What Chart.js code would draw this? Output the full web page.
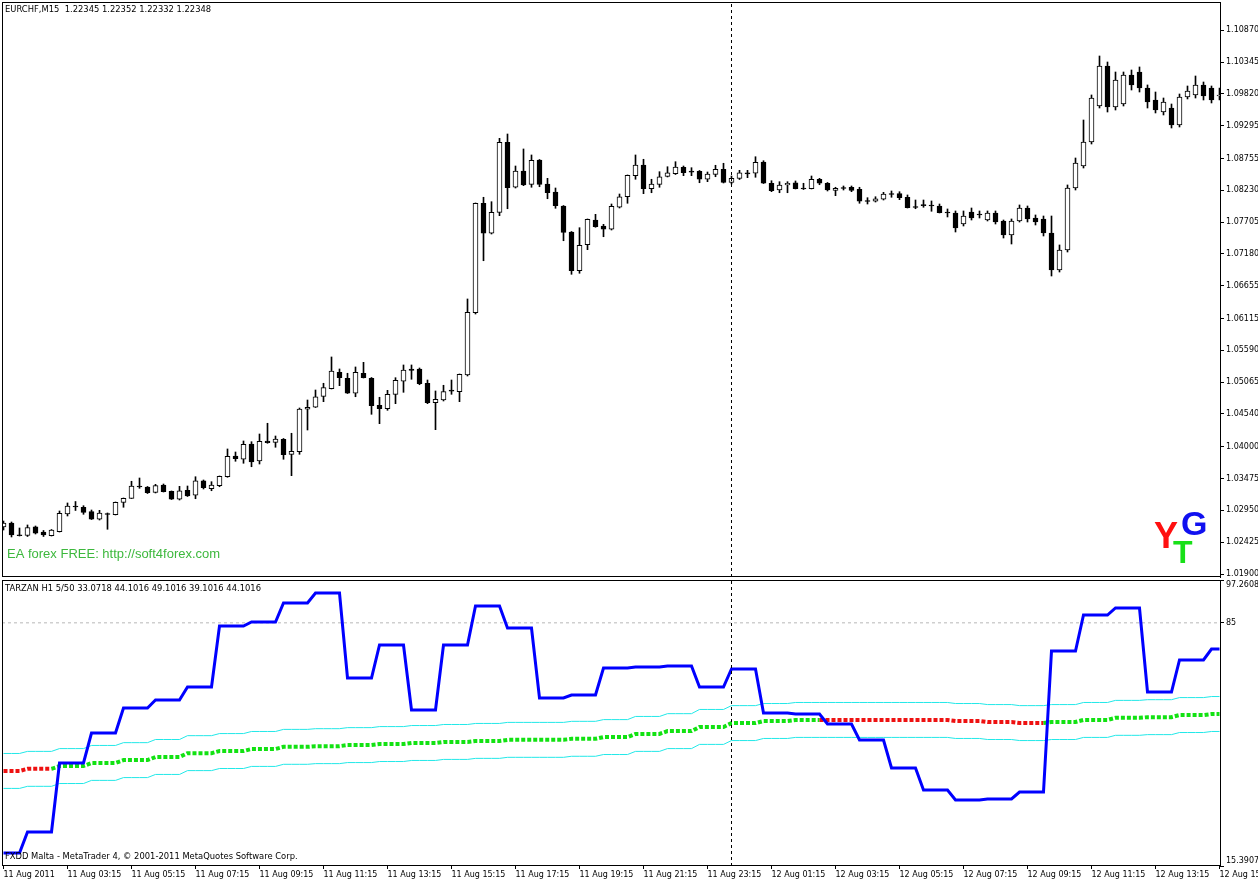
<!DOCTYPE html>
<html><head><meta charset="utf-8">
<script src="https://cdn.jsdelivr.net/npm/chart.js@4.4.0/dist/chart.umd.min.js"></script>
<style>
html,body{margin:0;padding:0;background:#fff;overflow:hidden;}
#wrap{position:relative;width:1258px;height:883px;background:#fff;}
#c1{position:absolute;left:0;top:0;}
#c2{position:absolute;left:0;top:579px;}
</style></head><body>
<div id="wrap"><canvas id="c1" width="1258" height="579"></canvas><canvas id="c2" width="1258" height="304"></canvas></div>
<script>
// ---- DATA (EURCHF M15, one entry per bar, bar 0 = 11 Aug 01:15) ----
const opens = [1.02676,1.02742,1.02544,1.02535,1.02680,1.02593,1.02532,1.02598,1.02890,1.03022,
1.03001,1.02928,1.02803,1.02898,1.02878,1.03083,1.03149,1.03352,1.03336,1.03248,
1.03369,1.03265,1.03133,1.03281,1.03199,1.03439,1.03307,1.03357,1.03505,1.03847,
1.03793,1.04045,1.03765,1.04095,1.04073,1.04123,1.03875,1.03918,1.04618,1.04651,
1.04832,1.04957,1.05228,1.05129,1.04882,1.05212,1.05129,1.04684,1.04627,1.04865,
1.05080,1.05283,1.05283,1.05047,1.04726,1.04771,1.04931,1.04908,1.05184,1.06211,
1.08017,1.07522,1.07868,1.09023,1.08281,1.08550,1.08330,1.08731,1.08335,1.08203,
1.07972,1.07543,1.06904,1.07333,1.07741,1.07642,1.07588,1.07951,1.08125,1.08472,
1.08649,1.08257,1.08330,1.08462,1.08505,1.08611,1.08545,1.08545,1.08413,1.08495,
1.08578,1.08363,1.08429,1.08505,1.08512,1.08698,1.08347,1.08236,1.08319,1.08356,
1.08264,1.08257,1.08413,1.08347,1.08231,1.08274,1.08281,1.08248,1.08059,1.08050,
1.08083,1.08175,1.08175,1.08116,1.07960,1.07989,1.07984,1.07972,1.07873,1.07857,
1.07675,1.07873,1.07840,1.07741,1.07857,1.07725,1.07494,1.07725,1.07939,1.07774,
1.07758,1.07527,1.06916,1.07246,1.08269,1.08632,1.09028,1.09622,1.10282,1.09606,
1.09655,1.10134,1.10183,1.09919,1.09721,1.09523,1.09589,1.09309,1.09771,1.09804,
1.09969,1.09919,1.09787];
const highs = [1.02774,1.02758,1.02659,1.02709,1.02692,1.02618,1.02634,1.02940,1.03072,1.03096,
1.03027,1.02956,1.02951,1.02907,1.03088,1.03154,1.03430,1.03484,1.03344,1.03380,
1.03385,1.03270,1.03347,1.03352,1.03505,1.03451,1.03423,1.03517,1.03963,1.03913,
1.04095,1.04083,1.04210,1.04387,1.04177,1.04136,1.04222,1.04639,1.04771,1.04936,
1.05047,1.05481,1.05283,1.05212,1.05316,1.05393,1.05142,1.04816,1.04931,1.05139,
1.05349,1.05349,1.05299,1.05101,1.04920,1.05014,1.05101,1.05200,1.06438,1.08022,
1.08116,1.08043,1.09089,1.09160,1.08632,1.08913,1.08814,1.08739,1.08429,1.08269,
1.07980,1.07551,1.07614,1.07758,1.07835,1.07670,1.08005,1.08170,1.08484,1.08814,
1.08743,1.08413,1.08538,1.08620,1.08703,1.08632,1.08604,1.08558,1.08533,1.08644,
1.08677,1.08467,1.08561,1.08561,1.08785,1.08719,1.08389,1.08373,1.08373,1.08385,
1.08347,1.08467,1.08429,1.08360,1.08281,1.08302,1.08302,1.08281,1.08109,1.08125,
1.08198,1.08220,1.08208,1.08154,1.08071,1.08071,1.08055,1.08005,1.07923,1.07890,
1.07890,1.07939,1.07890,1.07890,1.07890,1.07741,1.07758,1.07989,1.07972,1.07824,
1.07807,1.07807,1.07329,1.08319,1.08764,1.09391,1.09804,1.10447,1.10348,1.10183,
1.10183,1.10216,1.10266,1.09969,1.09853,1.09754,1.09655,1.09820,1.09952,1.10117,
1.10018,1.09952,1.09919];
const lows = [1.02626,1.02511,1.02527,1.02519,1.02560,1.02519,1.02527,1.02593,1.02857,1.02948,
1.02885,1.02799,1.02791,1.02638,1.02874,1.03001,1.03146,1.03314,1.03228,1.03237,
1.03253,1.03129,1.03121,1.03179,1.03142,1.03303,1.03274,1.03340,1.03496,1.03760,
1.03727,1.03670,1.03715,1.04057,1.03991,1.03793,1.03522,1.03875,1.04276,1.04647,
1.04743,1.04953,1.05007,1.04878,1.04825,1.05134,1.04535,1.04380,1.04601,1.04710,
1.04898,1.05113,1.05023,1.04710,1.04281,1.04755,1.04865,1.04743,1.05167,1.06190,
1.07069,1.07510,1.07812,1.07927,1.08269,1.08307,1.08281,1.08290,1.08092,1.07934,
1.07399,1.06845,1.06862,1.07251,1.07621,1.07465,1.07576,1.07939,1.08017,1.08413,
1.08175,1.08191,1.08281,1.08451,1.08492,1.08472,1.08472,1.08356,1.08373,1.08455,
1.08352,1.08335,1.08409,1.08439,1.08446,1.08343,1.08208,1.08191,1.08191,1.08253,
1.08244,1.08253,1.08323,1.08220,1.08142,1.08236,1.08208,1.08017,1.08005,1.08038,
1.08071,1.08116,1.08076,1.07939,1.07927,1.07951,1.07885,1.07857,1.07791,1.07543,
1.07642,1.07741,1.07774,1.07725,1.07675,1.07444,1.07345,1.07708,1.07708,1.07659,
1.07477,1.06817,1.06883,1.07213,1.08236,1.08599,1.08995,1.09589,1.09523,1.09556,
1.09622,1.09886,1.09853,1.09589,1.09507,1.09474,1.09259,1.09276,1.09738,1.09754,
1.09721,1.09672,1.09721];
const closes = [1.02742,1.02544,1.02535,1.02667,1.02572,1.02544,1.02626,1.02902,1.03022,1.03006,
1.02918,1.02803,1.02907,1.02882,1.03083,1.03149,1.03352,1.03336,1.03241,1.03357,
1.03258,1.03133,1.03274,1.03187,1.03439,1.03324,1.03369,1.03512,1.03842,1.03802,
1.04040,1.03748,1.04090,1.04066,1.04128,1.03868,1.03925,1.04623,1.04651,1.04825,
1.04974,1.05250,1.05139,1.04882,1.05228,1.05139,1.04677,1.04627,1.04865,1.05096,
1.05266,1.05261,1.05040,1.04726,1.04783,1.04908,1.04920,1.05195,1.06218,1.08017,
1.07522,1.07868,1.09023,1.08274,1.08550,1.08319,1.08726,1.08330,1.08191,1.07977,
1.07538,1.06904,1.07324,1.07753,1.07630,1.07588,1.07967,1.08125,1.08479,1.08649,
1.08257,1.08335,1.08455,1.08521,1.08616,1.08521,1.08533,1.08413,1.08500,1.08578,
1.08363,1.08429,1.08521,1.08517,1.08693,1.08347,1.08224,1.08319,1.08347,1.08257,
1.08257,1.08413,1.08347,1.08236,1.08264,1.08264,1.08231,1.08050,1.08050,1.08092,
1.08170,1.08165,1.08109,1.07944,1.07951,1.07984,1.07977,1.07861,1.07857,1.07609,
1.07807,1.07774,1.07824,1.07857,1.07708,1.07494,1.07725,1.07939,1.07758,1.07708,
1.07527,1.06916,1.07246,1.08269,1.08682,1.09028,1.09754,1.10282,1.09606,1.10051,
1.10134,1.09969,1.09919,1.09688,1.09556,1.09688,1.09309,1.09771,1.09870,1.09969,
1.09787,1.09721,1.09804];
const priceTicks = [1.01900,1.02425,1.02950,1.03475,1.04000,1.04540,1.05065,1.05590,1.06115,
1.06655,1.07180,1.07705,1.08230,1.08755,1.09295,1.09820,1.10345,1.10870];
// TARZAN H1 indicator, one value per H1 bar (39 hours)
const tarzanH1 = [19.11,25.12,44.88,53.46,60.62,62.91,66.63,84.09,85.24,90.68,93.54,69.21,78.65,
60.05,78.65,89.82,83.52,63.48,64.34,72.07,72.36,72.64,66.63,71.78,59.19,58.90,56.04,51.46,
43.44,37.15,34.28,34.57,36.57,76.94,87.24,89.25,65.20,74.36,77.51];
const maH1 = [42.6,43.2,44.0,44.9,45.7,46.6,47.7,48.3,48.9,49.5,49.7,50.0,50.3,50.6,50.9,51.2,
51.5,51.5,51.8,52.3,53.2,54.0,55.2,56.3,56.9,57.2,57.2,57.2,57.2,57.2,56.9,56.6,56.3,56.6,
57.2,57.8,58.0,58.6,58.9];
const upperH1 = [47.6,48.2,49.0,49.9,50.7,51.6,52.7,53.3,53.9,54.5,54.7,55.0,55.3,55.6,55.9,56.2,
56.5,56.5,56.8,57.3,58.2,59.0,60.2,61.3,61.9,62.2,62.2,62.2,62.2,62.2,61.9,61.6,61.3,61.6,
62.2,62.8,63.0,63.6,63.9];
const lowerH1 = [37.6,38.2,39.0,39.9,40.7,41.6,42.7,43.3,43.9,44.5,44.7,45.0,45.3,45.6,45.9,46.2,
46.5,46.5,46.8,47.3,48.2,49.0,50.2,51.3,51.9,52.2,52.2,52.2,52.2,52.2,51.9,51.6,51.3,51.6,
52.2,52.8,53.0,53.6,53.9];
const indTicks = [15.3907, 85, 97.2608];
const levelValue = 85;
const timeTickBars = [0,8,16,24,32,40,48,56,64,72,80,88,96,104,112,120,128,136,144,152];
const timeLabels = ["11 Aug 2011","11 Aug 03:15","11 Aug 05:15","11 Aug 07:15","11 Aug 09:15",
"11 Aug 11:15","11 Aug 13:15","11 Aug 15:15","11 Aug 17:15","11 Aug 19:15","11 Aug 21:15",
"11 Aug 23:15","12 Aug 01:15","12 Aug 03:15","12 Aug 05:15","12 Aug 07:15","12 Aug 09:15",
"12 Aug 11:15","12 Aug 13:15","12 Aug 15:15"];
const crosshairBar = 91;

// ---- rendering ----
Chart.defaults.font.family = 'DejaVu Sans';
Chart.defaults.font.size = 8;
Chart.defaults.color = '#000';
const xMin = -0.1875, xMax = 152.0625;
const pMin = 1.018505, pMax = 1.11338;
const iMin = 15.3907, iMax = 97.2608;
const groupOf = i => Math.floor((i + 1) / 4);
const DOJI = 0.00017;
const GREEN = '#12e212', RED = '#ee1111';

const wickData = opens.map((o, i) => ({x: i, y: [lows[i], highs[i]]}));
const bodyData = opens.map((o, i) => {
  const c = closes[i];
  let lo = Math.min(o, c), hi = Math.max(o, c);
  if (hi - lo < DOJI) { const m = (hi + lo) / 2; lo = m - DOJI / 2; hi = m + DOJI / 2; }
  return {x: i, y: [lo, hi]};
});
const bodyColors = opens.map((o, i) => (closes[i] - o >= DOJI ? '#ffffff' : '#000000'));

const framePlugin = {
  id: 'frame',
  afterDraw(chart) {
    const {ctx, chartArea: a} = chart;
    ctx.save();
    ctx.strokeStyle = '#000'; ctx.lineWidth = 1;
    ctx.strokeRect(a.left + 0.5, a.top + 0.5, a.right - a.left, a.bottom - a.top - 1);
    ctx.restore();
  }
};
const text1 = {
  id: 'text1',
  afterDraw(chart) {
    const ctx = chart.ctx;
    ctx.save();
    ctx.textBaseline = 'middle'; ctx.textAlign = 'left';
    ctx.fillStyle = '#000'; ctx.font = '8.4px "DejaVu Sans"';
    ctx.fillText('EURCHF,M15  1.22345 1.22352 1.22332 1.22348', 5, 10);
    ctx.fillStyle = '#3db83d'; ctx.font = '13px "Liberation Sans"';
    ctx.fillText('EA forex FREE: http://soft4forex.com', 7, 554);
    ctx.textBaseline = 'alphabetic';
    ctx.font = 'bold 36px "Liberation Sans"'; ctx.fillStyle = '#ff1010';
    ctx.fillText('Y', 1154, 548);
    ctx.font = 'bold 32px "Liberation Sans"'; ctx.fillStyle = '#18e018';
    ctx.fillText('T', 1173, 563);
    ctx.font = 'bold 34px "Liberation Sans"'; ctx.fillStyle = '#1010f0';
    ctx.fillText('G', 1181, 535);
    ctx.restore();
  }
};
const text2 = {
  id: 'text2',
  afterDraw(chart) {
    const ctx = chart.ctx;
    ctx.save();
    ctx.textBaseline = 'middle'; ctx.textAlign = 'left';
    ctx.fillStyle = '#000'; ctx.font = '8.4px "DejaVu Sans"';
    ctx.fillText('TARZAN H1 5/50 33.0718 44.1016 49.1016 39.1016 44.1016', 5, 10);
    ctx.fillText('FXDD Malta - MetaTrader 4, \u00a9 2001-2011 MetaQuotes Software Corp.', 5, 278);
    ctx.restore();
  }
};

new Chart(document.getElementById('c1'), {
  type: 'bar',
  data: {datasets: [
    {type: 'line', data: [{x: crosshairBar, y: pMin}, {x: crosshairBar, y: pMax}], borderColor: '#000',
     borderWidth: 1, borderDash: [3, 3], pointRadius: 0},
    {data: bodyData, backgroundColor: bodyColors, borderColor: '#000', borderWidth: 1, borderSkipped: false,
     barThickness: 5, grouped: false},
    {data: wickData, backgroundColor: '#000', borderWidth: 0, barThickness: 1, grouped: false}
  ]},
  options: {
    responsive: false, animation: false, devicePixelRatio: 1,
    layout: {padding: {left: 2, top: 2, right: 0, bottom: 2}},
    plugins: {legend: {display: false}, tooltip: {enabled: false}},
    scales: {
      x: {type: 'linear', min: xMin, max: xMax, offset: false, display: false, grid: {offset: false}},
      y: {type: 'linear', position: 'right', min: pMin, max: pMax, beginAtZero: false,
          afterBuildTicks: s => { s.ticks = priceTicks.map(v => ({value: v})); },
          afterFit: s => { s.width = 38; s.paddingTop = 0; s.paddingBottom = 0; },
          ticks: {callback: v => v.toFixed(5), autoSkip: false, padding: 2, color: '#000'},
          grid: {drawOnChartArea: false, tickLength: 4, color: '#000'},
          border: {color: '#000'}}
    }
  },
  plugins: [framePlugin, text1]
});

const bars = opens.map((_, i) => i);
new Chart(document.getElementById('c2'), {
  type: 'line',
  data: {datasets: [
    {data: [{x: crosshairBar, y: iMin}, {x: crosshairBar, y: iMax}], borderColor: '#000', borderWidth: 1,
     borderDash: [3, 3], pointRadius: 0},
    {data: bars.map(i => ({x: i, y: tarzanH1[groupOf(i)]})), borderColor: '#0000ff', borderWidth: 3,
     pointRadius: 0, tension: 0},
    {data: bars.map(i => ({x: i, y: maH1[groupOf(i)]})), borderColor: GREEN, borderWidth: 4,
     borderDash: [4, 2], borderCapStyle: 'butt', pointRadius: 0, tension: 0,
     segment: {borderColor: c => (tarzanH1[groupOf(c.p1DataIndex)] > maH1[groupOf(c.p1DataIndex)] ? GREEN : RED)}},
    {data: bars.map(i => ({x: i, y: upperH1[groupOf(i)]})), borderColor: '#22e8e8', borderWidth: 1, pointRadius: 0},
    {data: bars.map(i => ({x: i, y: lowerH1[groupOf(i)]})), borderColor: '#22e8e8', borderWidth: 1, pointRadius: 0},
    {data: [{x: xMin, y: levelValue}, {x: xMax, y: levelValue}], borderColor: '#b8b8b8', borderWidth: 1,
     borderDash: [3, 3], pointRadius: 0}
  ]},
  options: {
    responsive: false, animation: false, devicePixelRatio: 1,
    layout: {padding: {left: 2, top: 1, right: 0, bottom: 0}},
    plugins: {legend: {display: false}, tooltip: {enabled: false}},
    scales: {
      x: {type: 'linear', min: xMin, max: xMax, offset: false, position: 'bottom',
          afterBuildTicks: s => { s.ticks = timeTickBars.map(v => ({value: v})); },
          afterFit: s => { s.height = 17; s.paddingLeft = 0; s.paddingRight = 0; },
          ticks: {callback: (v, i) => timeLabels[i], align: 'start', maxRotation: 0, minRotation: 0,
                  autoSkip: false, padding: 1, color: '#000'},
          grid: {drawOnChartArea: false, tickLength: 3, color: '#000', offset: false},
          border: {display: false}},
      y: {type: 'linear', position: 'right', min: iMin, max: iMax,
          afterBuildTicks: s => { s.ticks = indTicks.map(v => ({value: v})); },
          afterFit: s => { s.width = 38; s.paddingTop = 0; s.paddingBottom = 0; },
          ticks: {autoSkip: false, padding: 2, color: '#000',
                  callback: v => (v === iMax ? ['', '97.2608'] : v === iMin ? ['15.3907', ''] : String(v))},
          grid: {drawOnChartArea: false, tickLength: 4, color: '#000'},
          border: {color: '#000'}}
    }
  },
  plugins: [framePlugin, text2]
});
</script>
</body></html>
